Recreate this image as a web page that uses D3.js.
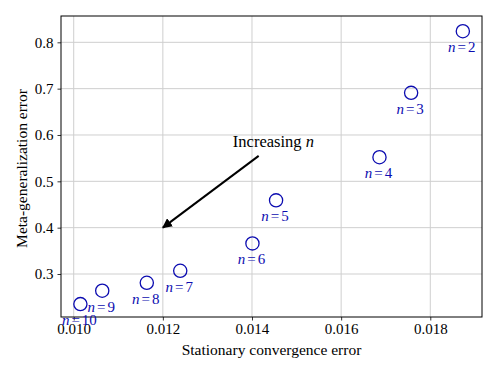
<!DOCTYPE html>
<html>
<head>
<meta charset="utf-8">
<script src="https://cdnjs.cloudflare.com/ajax/libs/d3/7.8.5/d3.min.js"></script>
<style>
  body { margin: 0; background: #fff; }
  svg { display: block; }
  text { font-family: "Liberation Serif", "DejaVu Serif", serif; }
</style>
</head>
<body>
<div id="viz"></div>
<script>
'use strict';

// values, n = 2 .. 10
var nValues = [2, 3, 4, 5, 6, 7, 8, 9, 10];
var convError = [0.01873, 0.01757, 0.01686, 0.01454, 0.01401, 0.01239, 0.01164, 0.01064, 0.01015];
var metaError = [0.824, 0.691, 0.552, 0.459, 0.366, 0.307, 0.281, 0.264, 0.235];

var xTicks = [0.010, 0.012, 0.014, 0.016, 0.018];
var yTicks = [0.3, 0.4, 0.5, 0.6, 0.7, 0.8];

// annotation: arrow from text towards (0.012, 0.4)
var arrowFrom = [0.01415, 0.555],
    arrowTo = [0.012, 0.4],
    arrowText = [0.01448, 0.575];

var width = 498,
    height = 374;
var margin = {top: 16, right: 16, bottom: 57, left: 61};
var w = width - margin.left - margin.right,
    h = height - margin.top - margin.bottom;
var blue = '#0c0cb0';

var svg = d3.select('#viz').append('svg')
    .attr('width', width)
    .attr('height', height);
var g = svg.append('g')
    .attr('transform', 'translate(' + margin.left + ',' + margin.top + ')');

var x = d3.scaleLinear().domain([0.009715, 0.01916]).range([0, w]);
var y = d3.scaleLinear().domain([0.2072, 0.8568]).range([h, 0]);

// grid
g.append('g').selectAll('line')
    .data(xTicks)
    .enter().append('line')
    .attr('x1', d => x(d)).attr('x2', d => x(d))
    .attr('y1', 0).attr('y2', h)
    .attr('stroke', '#cfcfcf').attr('stroke-width', 1);
g.append('g').selectAll('line')
    .data(yTicks)
    .enter().append('line')
    .attr('y1', d => y(d)).attr('y2', d => y(d))
    .attr('x1', 0).attr('x2', w)
    .attr('stroke', '#cfcfcf').attr('stroke-width', 1);

// axes
var xAxis = g.append('g')
    .attr('transform', 'translate(0,' + h + ')')
    .call(d3.axisBottom(x).tickValues(xTicks).tickFormat(d3.format('.3f'))
        .tickSizeInner(3.5).tickSizeOuter(0).tickPadding(3));
var yAxis = g.append('g')
    .call(d3.axisLeft(y).tickValues(yTicks).tickFormat(d3.format('.1f'))
        .tickSizeInner(3.5).tickSizeOuter(0).tickPadding(4));
[xAxis, yAxis].forEach(function(a) {
    a.select('.domain').remove();
    a.selectAll('line').attr('stroke', '#000').attr('stroke-width', 0.8);
    a.selectAll('text')
        .attr('fill', '#000')
        .style('font-family', '"Liberation Serif", serif')
        .style('font-size', '15px');
});

// frame
g.append('rect')
    .attr('width', w).attr('height', h)
    .attr('fill', 'none')
    .attr('stroke', '#000').attr('stroke-width', 1);

// axis titles
svg.append('text')
    .attr('x', margin.left + w / 2)
    .attr('y', 355)
    .attr('text-anchor', 'middle')
    .style('font-size', '15.5px')
    .text('Stationary convergence error');
svg.append('text')
    .attr('transform', 'translate(27,' + (margin.top + h / 2 + 2) + ') rotate(-90)')
    .attr('text-anchor', 'middle')
    .style('font-size', '15.5px')
    .text('Meta-generalization error');

// arrow
svg.append('defs').append('marker')
    .attr('id', 'head')
    .attr('viewBox', '0 0 10 10')
    .attr('refX', 9).attr('refY', 5)
    .attr('markerWidth', 5).attr('markerHeight', 5)
    .attr('markerUnits', 'strokeWidth')
    .attr('orient', 'auto')
    .append('path')
    .attr('d', 'M0,0 L10,5 L0,10 Z')
    .attr('fill', '#000');
g.append('line')
    .attr('x1', x(arrowFrom[0])).attr('y1', y(arrowFrom[1]))
    .attr('x2', x(arrowTo[0])).attr('y2', y(arrowTo[1]))
    .attr('stroke', '#000').attr('stroke-width', 2)
    .attr('marker-end', 'url(#head)');
var ann = g.append('text')
    .attr('x', x(arrowText[0]))
    .attr('y', y(arrowText[1]))
    .attr('text-anchor', 'middle')
    .style('font-size', '16.5px');
ann.append('tspan').text('Increasing ');
ann.append('tspan').style('font-style', 'italic').text('n');

// points
var points = nValues.map((n, i) => ({n: n, cx: convError[i], my: metaError[i]}));
g.append('g').selectAll('circle')
    .data(points)
    .enter().append('circle')
    .attr('cx', d => x(d.cx))
    .attr('cy', d => y(d.my))
    .attr('r', 6.6)
    .attr('fill', 'none')
    .attr('stroke', blue)
    .attr('stroke-width', 1.3);

var labels = g.append('g').selectAll('text')
    .data(points)
    .enter().append('text')
    .attr('x', d => x(d.cx) - 1)
    .attr('y', d => y(d.my) + 21)
    .attr('text-anchor', 'middle')
    .attr('fill', blue)
    .style('font-size', '15px');
labels.append('tspan').style('font-style', 'italic').text('n');
labels.append('tspan').attr('dx', 2).text('=');
labels.append('tspan').attr('dx', 2).text(d => d.n);
</script>
</body>
</html>
